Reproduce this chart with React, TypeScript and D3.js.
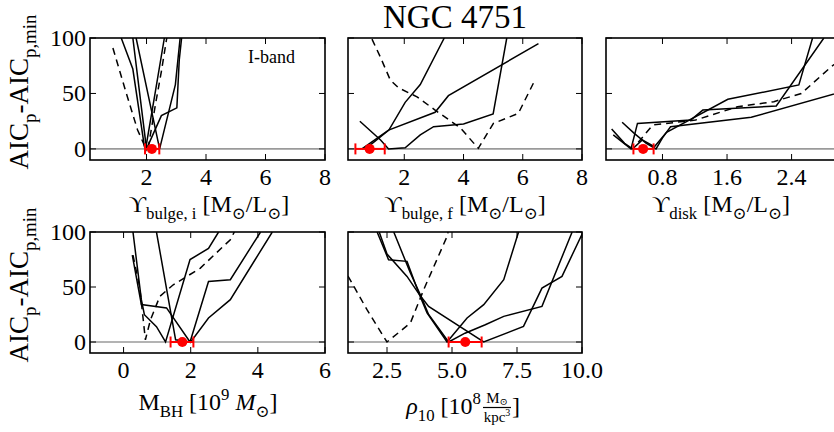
import React from 'react';
import * as d3 from 'd3';

type Pt = [number, number];

// ---------- shared ----------
const yTicks = [0, 50, 100];
const yDomain: [number, number] = [-10, 100];
const title = 'NGC 4751';
const bandLabel = 'I-band';

// ---------- panel 1 : Upsilon bulge, i ----------
const p1Domain: [number, number] = [0.1, 8];
const p1Ticks = [2, 4, 6, 8];
const p1Solid: Pt[][] = [
  [[1.15, 100], [1.54, 72], [1.93, 2], [1.97, 0], [2.3, 52], [2.6, 100]],
  [[1.54, 100], [2.0, 0], [2.5, 30], [3.02, 37], [3.1, 80], [3.18, 100]],
  [[1.65, 100], [2.44, 0], [2.97, 58], [3.13, 100]],
];
const p1Dashed: Pt[] = [[0.87, 91], [1.3, 52], [1.7, 17], [1.95, 2], [2.05, 0], [2.3, 40], [2.5, 70], [2.68, 100]];
const p1Best = 2.18;
const p1Err: [number, number] = [1.95, 2.43];

// ---------- panel 2 : Upsilon bulge, f ----------
const p2Domain: [number, number] = [0.1, 8];
const p2Ticks = [2, 4, 6, 8];
const p2Solid: Pt[][] = [
  [[0.5, 25], [1.2, 8], [1.47, 0], [2.03, 1], [2.54, 12.6], [2.99, 20], [4.0, 22.5], [5.0, 31.5], [5.46, 100]],
  [[0.57, 0], [1.47, 17], [3.04, 33], [3.49, 48], [6.53, 95]],
  [[0.69, 0], [1.48, 17], [2.03, 42], [2.54, 58], [3.35, 100]],
];
const p2Dashed: Pt[] = [[0.91, 99], [1.19, 83], [1.53, 62], [1.81, 55], [2.43, 47], [3.04, 35], [3.89, 19], [4.5, 0.5], [5.01, 23], [5.85, 32], [6.41, 62]];
const p2Best = 0.83;
const p2Err: [number, number] = [0.35, 1.34];

// ---------- panel 3 : Upsilon disk ----------
const p3Domain: [number, number] = [0.1, 3.0];
const p3Ticks = [0.8, 1.6, 2.4];
const p3Solid: Pt[][] = [
  [[0.19, 12.6], [0.41, 0], [0.49, 23], [1.15, 26], [1.3, 35], [2.21, 38.7], [2.8, 100]],
  [[0.17, 18], [0.33, 5], [0.43, 0], [0.55, 8], [0.7, 2], [0.85, 15], [1.61, 44.7], [2.49, 57.7], [2.66, 100]],
  [[0.3, 24], [0.45, 14], [0.6, 5], [0.72, 0], [0.8, 10], [0.9, 20], [1.9, 28.5], [3.0, 51]],
];
const p3Dashed: Pt[] = [[0.5, 6], [0.68, 21.6], [1.21, 26], [1.73, 38], [2.18, 42.6], [2.52, 50], [2.89, 74], [3.0, 80]];
const p3Best = 0.56;
const p3Err: [number, number] = [0.44, 0.69];

// ---------- panel 4 : M_BH ----------
const p4Domain: [number, number] = [-1, 6];
const p4Ticks = [0, 2, 4, 6];
const p4Solid: Pt[][] = [
  [[0.28, 100], [0.53, 38.5], [0.62, 24.8], [0.98, 14], [1.25, 0], [1.98, 75], [2.53, 85], [2.83, 100]],
  [[0.26, 79], [0.53, 34], [1.28, 31], [1.98, 0], [2.53, 55], [3.18, 56.6], [4.08, 100]],
  [[0.98, 100], [1.55, 2], [2.0, 0], [2.53, 21.8], [3.18, 38.5], [4.43, 100]],
];
const p4Dashed: Pt[] = [[0.28, 79], [0.48, 50], [0.65, 2], [0.8, 20], [1.08, 41.5], [1.48, 52], [2.28, 67], [3.18, 93], [3.3, 100]];
const p4Best = 1.75;
const p4Err: [number, number] = [1.4, 2.08];

// ---------- panel 5 : rho_10 ----------
const p5Domain: [number, number] = [1, 10];
const p5Ticks = [2.5, 5.0, 7.5, 10.0];
const p5Solid: Pt[][] = [
  [[2.12, 100], [2.56, 74.8], [3.27, 73.3], [3.72, 44.5], [4.04, 26.4], [4.81, 0], [5.58, 21.8], [6.22, 34], [6.99, 56.6], [7.56, 100]],
  [[2.2, 100], [2.5, 80], [3.27, 59.6], [3.72, 44], [4.1, 32.4], [6.22, 0], [7.75, 14.2], [8.46, 49], [9.23, 59.6], [10, 98]],
  [[2.76, 100], [3.4, 62.7], [3.8, 42], [4.1, 25], [4.87, 0], [5.5, 8], [6.28, 15.7], [6.99, 23.3], [8.46, 32.4], [9.62, 100]],
];
const p5Dashed: Pt[] = [[1.0, 60], [1.73, 29.4], [2.5, 0], [3.4, 17.3], [3.91, 47.5], [4.81, 96], [4.85, 100]];
const p5Best = 5.51;
const p5Err: [number, number] = [4.87, 6.14];

const FONT = "'Liberation Serif', 'DejaVu Serif', serif";
const TICK_FS = 24;
const LABEL_FS = 24;
const YLABEL_FS = 27;

type Piece = { t: string; s?: 'sub' | 'sup'; i?: boolean };

function RichText({ pieces, fs }: { pieces: Piece[]; fs: number }) {
  let level = 0;
  const out: React.ReactNode[] = [];
  pieces.forEach((p, k) => {
    const target = p.s === 'sub' ? 0.3 * fs : p.s === 'sup' ? -0.42 * fs : 0;
    const dy = target - level;
    level = target;
    out.push(
      <tspan key={k} dy={dy} fontSize={p.s ? fs * 0.7 : fs} fontStyle={p.i ? 'italic' : 'normal'}>
        {p.t}
      </tspan>
    );
  });
  return <>{out}</>;
}

interface PanelProps {
  id: string;
  x0: number; x1: number; y0: number; y1: number;
  domain: [number, number];
  ticks: number[];
  fmt: (v: number) => string;
  solid: Pt[][];
  dashed: Pt[];
  best: number;
  err: [number, number];
  showY: boolean;
}

function Panel(p: PanelProps) {
  const xs = d3.scaleLinear().domain(p.domain).range([p.x0, p.x1]);
  const ys = d3.scaleLinear().domain(yDomain).range([p.y1, p.y0]);
  const line = d3.line<Pt>().x(d => xs(d[0])).y(d => ys(d[1]));
  const tl = 6;
  return (
    <g>
      <defs>
        <clipPath id={p.id}>
          <rect x={p.x0} y={p.y0} width={p.x1 - p.x0} height={p.y1 - p.y0} />
        </clipPath>
      </defs>
      <g clipPath={`url(#${p.id})`}>
        <line x1={p.x0} x2={p.x1} y1={ys(0)} y2={ys(0)} stroke="#9a9a9a" strokeWidth={1.6} />
        {p.solid.map((c, k) => (
          <path key={k} d={line(c) || ''} fill="none" stroke="#000" strokeWidth={1.5} strokeLinejoin="miter" />
        ))}
        <path d={line(p.dashed) || ''} fill="none" stroke="#000" strokeWidth={1.5} strokeDasharray="7,5" />
        <line x1={xs(p.err[0])} x2={xs(p.err[1])} y1={ys(0)} y2={ys(0)} stroke="#ff0000" strokeWidth={2} />
        <line x1={xs(p.err[0])} x2={xs(p.err[0])} y1={ys(0) - 5.5} y2={ys(0) + 5.5} stroke="#ff0000" strokeWidth={2} />
        <line x1={xs(p.err[1])} x2={xs(p.err[1])} y1={ys(0) - 5.5} y2={ys(0) + 5.5} stroke="#ff0000" strokeWidth={2} />
        <circle cx={xs(p.best)} cy={ys(0)} r={5} fill="#ff0000" />
      </g>
      {p.ticks.map(t => (
        <g key={'x' + t}>
          <line x1={xs(t)} x2={xs(t)} y1={p.y1} y2={p.y1 - tl} stroke="#000" strokeWidth={1} />
          <line x1={xs(t)} x2={xs(t)} y1={p.y0} y2={p.y0 + tl} stroke="#000" strokeWidth={1} />
          <text x={xs(t)} y={p.y1 + 25} textAnchor="middle" fontSize={TICK_FS} fontFamily={FONT}>{p.fmt(t)}</text>
        </g>
      ))}
      {yTicks.map(t => (
        <g key={'y' + t}>
          <line x1={p.x0} x2={p.x0 + tl} y1={ys(t)} y2={ys(t)} stroke="#000" strokeWidth={1} />
          <line x1={p.x1} x2={p.x1 - tl} y1={ys(t)} y2={ys(t)} stroke="#000" strokeWidth={1} />
          {p.showY && (
            <text x={p.x0 - 4} y={ys(t) + 8} textAnchor="end" fontSize={TICK_FS} fontFamily={FONT}>{t}</text>
          )}
        </g>
      ))}
      <rect x={p.x0} y={p.y0} width={p.x1 - p.x0} height={p.y1 - p.y0} fill="none" stroke="#000" strokeWidth={1.6} />
    </g>
  );
}

const ODOT = '\u2299';

export default function App() {
  const top = { y0: 38, y1: 160 };
  const bot = { y0: 232, y1: 353 };
  const cols = [[90, 325], [348, 582], [606, 840]];
  const intFmt = (v: number) => String(v);
  const f1 = (v: number) => v.toFixed(1);
  const ylab: Piece[] = [{ t: 'AIC' }, { t: 'p', s: 'sub' }, { t: '-AIC' }, { t: 'p,min', s: 'sub' }];
  return (
    <svg width={834} height={432} style={{ position: 'absolute', left: 0, top: 0, background: '#fff' }}>
      <rect x={0} y={0} width={834} height={432} fill="#fff" />
      <text x={455} y={28} textAnchor="middle" fontSize={33} fontFamily={FONT}>{title}</text>

      <Panel id="c1" x0={cols[0][0]} x1={cols[0][1]} {...top} domain={p1Domain} ticks={p1Ticks} fmt={intFmt}
        solid={p1Solid} dashed={p1Dashed} best={p1Best} err={p1Err} showY={true} />
      <Panel id="c2" x0={cols[1][0]} x1={cols[1][1]} {...top} domain={p2Domain} ticks={p2Ticks} fmt={intFmt}
        solid={p2Solid} dashed={p2Dashed} best={p2Best} err={p2Err} showY={false} />
      <Panel id="c3" x0={cols[2][0]} x1={cols[2][1]} {...top} domain={p3Domain} ticks={p3Ticks} fmt={f1}
        solid={p3Solid} dashed={p3Dashed} best={p3Best} err={p3Err} showY={false} />
      <Panel id="c4" x0={cols[0][0]} x1={cols[0][1]} {...bot} domain={p4Domain} ticks={p4Ticks} fmt={intFmt}
        solid={p4Solid} dashed={p4Dashed} best={p4Best} err={p4Err} showY={true} />
      <Panel id="c5" x0={cols[1][0]} x1={cols[1][1]} {...bot} domain={p5Domain} ticks={p5Ticks} fmt={f1}
        solid={p5Solid} dashed={p5Dashed} best={p5Best} err={p5Err} showY={false} />

      <text x={295} y={63} textAnchor="end" fontSize={18} fontFamily={FONT}>{bandLabel}</text>

      {/* y labels */}
      <text transform="translate(28,92) rotate(-90)" textAnchor="middle" fontSize={YLABEL_FS} fontFamily={FONT}>
        <RichText pieces={ylab} fs={YLABEL_FS} />
      </text>
      <text transform="translate(28,285) rotate(-90)" textAnchor="middle" fontSize={YLABEL_FS} fontFamily={FONT}>
        <RichText pieces={ylab} fs={YLABEL_FS} />
      </text>

      {/* x labels */}
      <text x={209} y={212} textAnchor="middle" fontSize={LABEL_FS} fontFamily={FONT}>
        <RichText fs={LABEL_FS} pieces={[{ t: '\u03D2' }, { t: 'bulge, i', s: 'sub' }, { t: ' [M' }, { t: ODOT, s: 'sub' }, { t: '/L' }, { t: ODOT, s: 'sub' }, { t: ']' }]} />
      </text>
      <text x={465} y={212} textAnchor="middle" fontSize={LABEL_FS} fontFamily={FONT}>
        <RichText fs={LABEL_FS} pieces={[{ t: '\u03D2' }, { t: 'bulge, f', s: 'sub' }, { t: ' [M' }, { t: ODOT, s: 'sub' }, { t: '/L' }, { t: ODOT, s: 'sub' }, { t: ']' }]} />
      </text>
      <text x={721} y={212} textAnchor="middle" fontSize={LABEL_FS} fontFamily={FONT}>
        <RichText fs={LABEL_FS} pieces={[{ t: '\u03D2' }, { t: 'disk', s: 'sub' }, { t: ' [M' }, { t: ODOT, s: 'sub' }, { t: '/L' }, { t: ODOT, s: 'sub' }, { t: ']' }]} />
      </text>
      <text x={208} y={410} textAnchor="middle" fontSize={LABEL_FS} fontFamily={FONT}>
        <RichText fs={LABEL_FS} pieces={[{ t: 'M' }, { t: 'BH', s: 'sub' }, { t: ' [10' }, { t: '9', s: 'sup' }, { t: ' ' }, { t: 'M', i: true }, { t: ODOT, s: 'sub' }, { t: ']' }]} />
      </text>
      <text x={481} y={414} textAnchor="end" fontSize={LABEL_FS} fontFamily={FONT}>
        <RichText fs={LABEL_FS} pieces={[{ t: '\u03C1', i: true }, { t: '10', s: 'sub' }, { t: ' [10' }, { t: '8', s: 'sup' }]} />
      </text>
      <text x={497} y={403} textAnchor="middle" fontSize={15} fontFamily={FONT}>
        <tspan>M</tspan><tspan fontSize={10} dy={2}>{ODOT}</tspan>
      </text>
      <line x1={483} x2={511} y1={407.5} y2={407.5} stroke="#000" strokeWidth={1.2} />
      <text x={497} y={422} textAnchor="middle" fontSize={15} fontFamily={FONT}>
        <tspan>kpc</tspan><tspan fontSize={10} dy={-6}>3</tspan>
      </text>
      <text x={512} y={414} textAnchor="start" fontSize={LABEL_FS} fontFamily={FONT}>]</text>
    </svg>
  );
}
